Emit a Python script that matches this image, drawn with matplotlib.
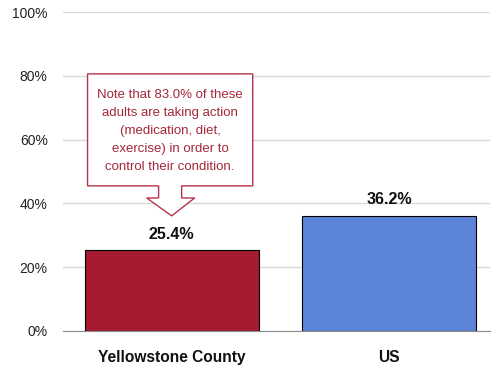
import matplotlib.pyplot as plt
from matplotlib.patches import Polygon

categories = ["Yellowstone County", "US"]
values = [25.4, 36.2]
bar_colors = ["#a51c30", "#5b84d6"]
y_ticks = [0, 20, 40, 60, 80, 100]
note = ("Note that 83.0% of these\nadults are taking action\n(medication, diet,\n"
        "exercise) in order to\ncontrol their condition.")

FONT = ["Liberation Sans", "DejaVu Sans"]

fig = plt.figure(figsize=(4.94, 3.66), dpi=100)
ax = fig.add_axes([63 / 494, 35 / 366, 427 / 494, 319 / 366])

x = range(len(categories))
ax.bar(x, values, width=0.8, color=bar_colors, edgecolor="black", linewidth=0.8, zorder=3)
for xi, v in zip(x, values):
    ax.text(xi, v + 2.6, f"{v:.1f}%", ha="center", va="bottom", fontsize=11.6,
            fontweight="bold", family=FONT, color="#111111")

ax.set_xlim(-0.5, 1.465)
ax.set_ylim(0, 100)
ax.set_yticks(y_ticks)
ax.set_yticklabels([f"{t}%" for t in y_ticks], family=FONT, fontsize=10, color="#222222")
ax.set_xticks(list(x))
ax.set_xticklabels(categories, family=FONT, fontsize=11.2, fontweight="bold", color="#111111")
ax.tick_params(axis="y", length=0, pad=11)
ax.tick_params(axis="x", length=0, pad=14)
ax.grid(axis="y", color="#d9d9d9", linewidth=1, zorder=0)
for s in ["top", "right", "left"]:
    ax.spines[s].set_visible(False)
ax.spines["bottom"].set_color("#8c8c8c")
ax.spines["bottom"].set_zorder(4)

# callout box with downward arrow pointing at the county bar
callout = [(-0.387, 80.6), (0.373, 80.6), (0.373, 45.5), (0.046, 45.5), (0.046, 41.7),
           (0.106, 41.7), (0.0, 36.1), (-0.115, 41.7), (-0.06, 41.7), (-0.06, 45.5),
           (-0.387, 45.5)]
ax.add_patch(Polygon(callout, closed=True, facecolor="white", edgecolor="#b8324a",
                     linewidth=1.0, zorder=5))
ax.text(-0.007, 62.8, note, ha="center", va="center", color="#a3283a", fontsize=9.5,
        family=FONT, linespacing=1.66, zorder=6)

fig.savefig("out.png", dpi=100)
